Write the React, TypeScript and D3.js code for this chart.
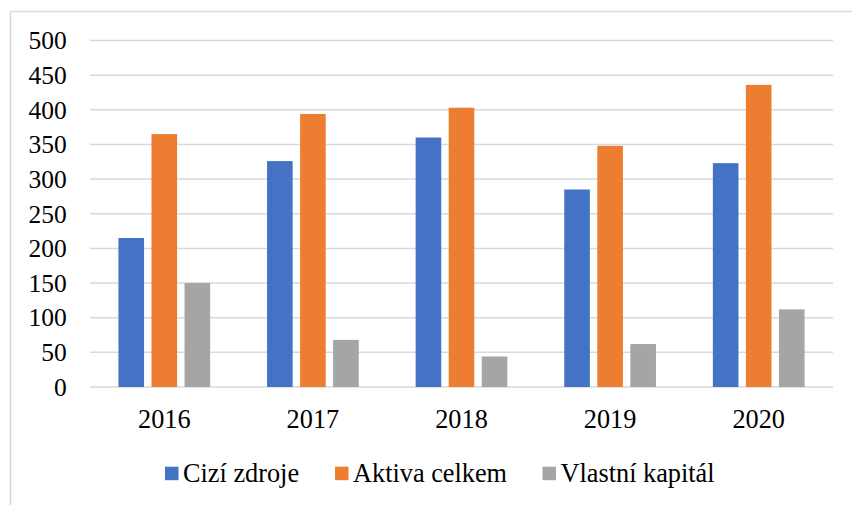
import React from "react";
import * as d3 from "d3";

const years = ["2016", "2017", "2018", "2019", "2020"];
const seriesNames = ["Cizí zdroje", "Aktiva celkem", "Vlastní kapitál"];
const ciziZdroje = [215, 326, 360, 285, 323];
const aktivaCelkem = [365, 394, 403, 348, 436];
const vlastniKapital = [150, 68, 44, 62, 112];
const colors = ["#4472C4", "#ED7D31", "#A5A5A5"];
const yTicks = [0, 50, 100, 150, 200, 250, 300, 350, 400, 450, 500];

const W = 852;
const H = 505;
const FONT = '"Liberation Serif"';

export default function App() {
  const series = [ciziZdroje, aktivaCelkem, vlastniKapital];

  const x = d3.scaleBand().domain(years).range([90, 833]);
  const y = d3.scaleLinear().domain([0, 500]).range([387, 40.5]);
  const groupW = 91.7;
  const inner = d3.scaleBand().domain(seriesNames).range([0, groupW]).paddingInner(0.225);
  const groupOffset = (x.bandwidth() - groupW) / 2;

  const legendX = [165, 335, 542.5];

  return (
    <svg
      width={W}
      height={H}
      style={{ position: "absolute", left: 0, top: 0, display: "block", background: "white" }}
    >
      {/* outer frame, only left/top edges fall inside the picture */}
      <rect x={10.5} y={11.5} width={W} height={H} fill="white" stroke="#D9D9D9" strokeWidth={1.5} />

      {/* gridlines */}
      {yTicks.map((t) => (
        <line key={t} x1={90} x2={833} y1={y(t)} y2={y(t)} stroke="#D9D9D9" strokeWidth={1.5} />
      ))}

      {/* y labels */}
      {yTicks.map((t) => (
        <text key={t} x={66.7} y={y(t)} dy="0.345em" textAnchor="end" fill="#000"
          style={{ fontFamily: FONT, fontSize: "25.5px" }}>
          {t}
        </text>
      ))}

      {/* bars */}
      {seriesNames.map((name, si) => (
        <g key={name}>
          {series[si].map((v, i) => (
            <rect
              key={years[i]}
              x={(x(years[i]) as number) + groupOffset + (inner(name) as number)}
              y={y(v)}
              width={inner.bandwidth()}
              height={y(0) - y(v)}
              fill={colors[si]}
            />
          ))}
        </g>
      ))}

      {/* x labels */}
      {years.map((yr) => (
        <text key={yr} x={(x(yr) as number) + x.bandwidth() / 2} y={427.7} textAnchor="middle" fill="#000"
          style={{ fontFamily: FONT, fontSize: "26.3px" }}>
          {yr}
        </text>
      ))}

      {/* legend */}
      {seriesNames.map((name, i) => (
        <g key={name}>
          <rect x={legendX[i]} y={466.7} width={13.5} height={13.5} fill={colors[i]} />
          <text x={legendX[i] + 18} y={481.5} fill="#000" style={{ fontFamily: FONT, fontSize: "26.3px" }}>
            {name}
          </text>
        </g>
      ))}
    </svg>
  );
}
